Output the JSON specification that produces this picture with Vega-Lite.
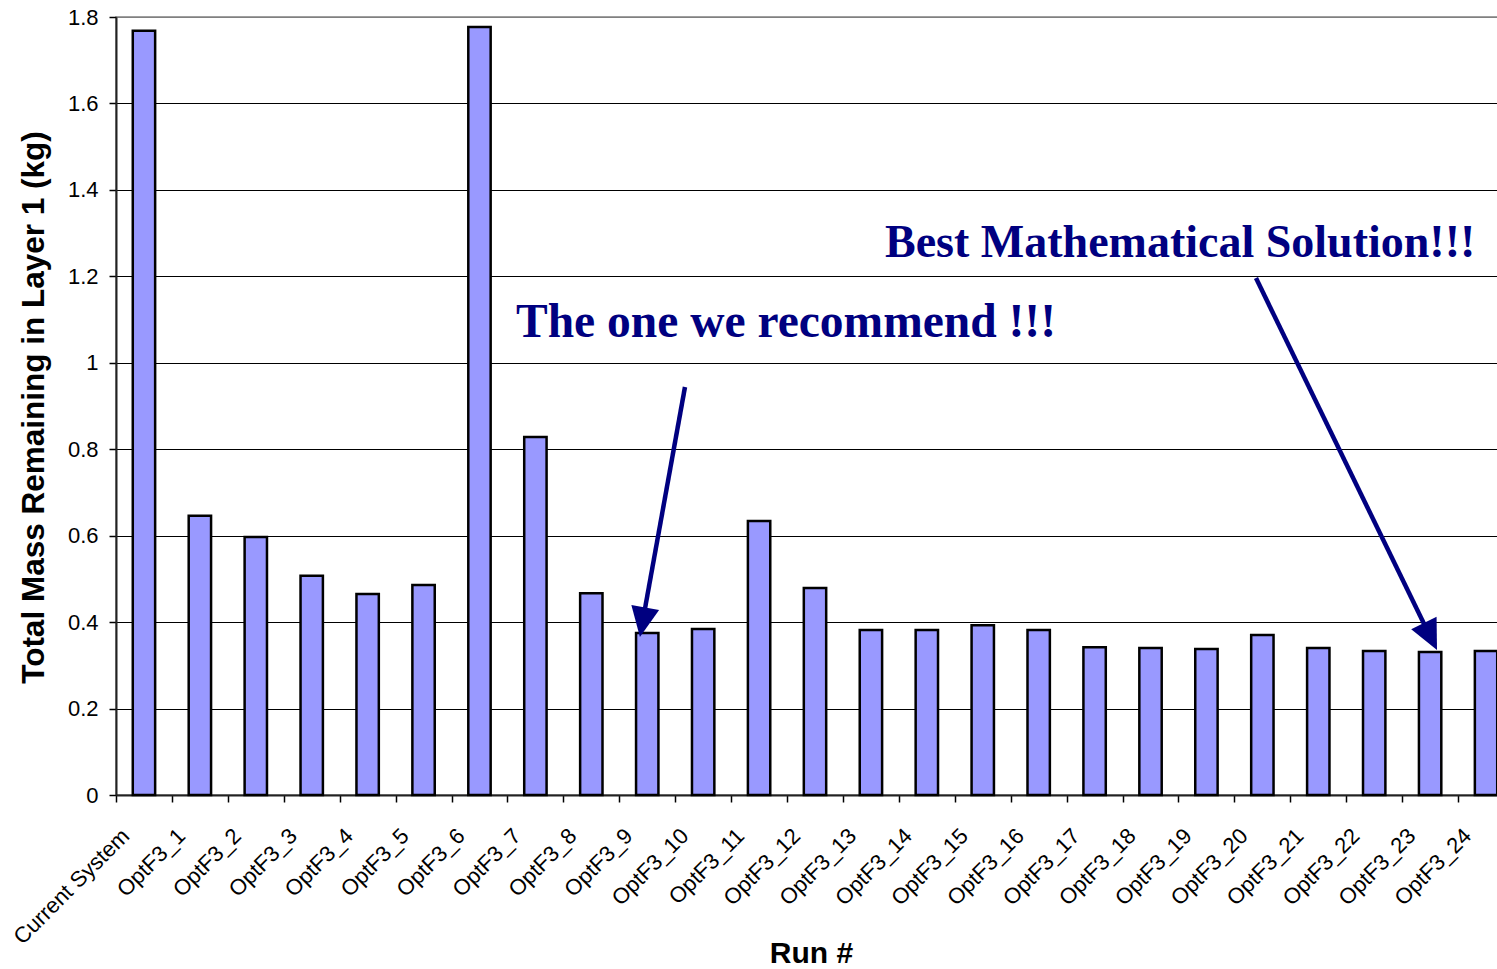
{
  "$schema": "https://vega.github.io/schema/vega-lite/v6.json",
  "autosize": "none",
  "width": 1398,
  "height": 778,
  "padding": {"left": 116, "top": 17, "right": 0, "bottom": 174},
  "background": "white",
  "config": {
    "view": {"stroke": "#808080", "strokeWidth": 1.5},
    "font": "Liberation Sans"
  },
  "resolve": {"scale": {"x": "independent"}},
  "layer": [
    {
      "data": {
        "values": [
          {"run": "Current System", "mass": 1.768},
          {"run": "OptF3_1", "mass": 0.646},
          {"run": "OptF3_2", "mass": 0.597},
          {"run": "OptF3_3", "mass": 0.507},
          {"run": "OptF3_4", "mass": 0.465},
          {"run": "OptF3_5", "mass": 0.486},
          {"run": "OptF3_6", "mass": 1.777},
          {"run": "OptF3_7", "mass": 0.828},
          {"run": "OptF3_8", "mass": 0.467},
          {"run": "OptF3_9", "mass": 0.375},
          {"run": "OptF3_10", "mass": 0.384},
          {"run": "OptF3_11", "mass": 0.634},
          {"run": "OptF3_12", "mass": 0.479},
          {"run": "OptF3_13", "mass": 0.382},
          {"run": "OptF3_14", "mass": 0.382},
          {"run": "OptF3_15", "mass": 0.393},
          {"run": "OptF3_16", "mass": 0.382},
          {"run": "OptF3_17", "mass": 0.342},
          {"run": "OptF3_18", "mass": 0.340},
          {"run": "OptF3_19", "mass": 0.338},
          {"run": "OptF3_20", "mass": 0.370},
          {"run": "OptF3_21", "mass": 0.340},
          {"run": "OptF3_22", "mass": 0.333},
          {"run": "OptF3_23", "mass": 0.331},
          {"run": "OptF3_24", "mass": 0.333}
        ]
      },
      "mark": {"type": "bar", "fill": "#9999FF", "stroke": "black", "strokeWidth": 2.5},
      "encoding": {
        "x": {
          "field": "run",
          "type": "nominal",
          "sort": null,
          "scale": {"paddingInner": 0.6, "paddingOuter": 0.3},
          "axis": {
            "title": "Run #",
            "titleFont": "Liberation Sans",
            "titleFontSize": 30,
            "titleFontWeight": "bold",
            "titleColor": "black",
            "titleX": 695,
            "titleY": 167,
            "titleBaseline": "alphabetic",
            "labelAngle": -45,
            "labelAlign": "right",
            "labelBaseline": "middle",
            "labelFontSize": 22,
            "labelColor": "black",
            "labelPadding": 30,
            "labelOffset": -2,
            "labelOverlap": false,
            "labelBound": false,
            "bandPosition": 0,
            "tickOffset": -16.78,
            "tickSize": 7,
            "tickColor": "black",
            "tickWidth": 1.5,
            "domainColor": "#222222",
            "domainWidth": 2,
            "grid": false
          }
        },
        "y": {
          "field": "mass",
          "type": "quantitative",
          "scale": {"domain": [0, 1.8], "nice": false},
          "axis": {
            "title": "Total Mass Remaining in Layer 1 (kg)",
            "titleFont": "Liberation Sans",
            "titleFontSize": 31.5,
            "titleFontWeight": "bold",
            "titleColor": "black",
            "titleX": -73,
            "titleY": 390,
            "titleAngle": 270,
            "titleBaseline": "alphabetic",
            "values": [0, 0.2, 0.4, 0.6, 0.8, 1, 1.2, 1.4, 1.6, 1.8],
            "format": "~g",
            "labelFontSize": 22,
            "labelColor": "black",
            "labelPadding": 11,
            "tickSize": 7,
            "tickColor": "black",
            "tickWidth": 1.5,
            "domainColor": "#222222",
            "domainWidth": 2,
            "grid": true,
            "gridColor": {"condition": {"test": "datum.value >= 1.79", "value": "#808080"}, "value": "black"},
            "gridWidth": 1,
            "gridOpacity": 1
          }
        }
      }
    },
    {
      "data": {
        "values": [
          {"x": 10.175, "y": 0.944, "x2": 9.433, "y2": 0.412},
          {"x": 20.386, "y": 1.196, "x2": 23.462, "y2": 0.377}
        ]
      },
      "mark": {"type": "rule", "color": "#000080", "strokeWidth": 4.5, "strokeCap": "butt"},
      "encoding": {
        "x": {"field": "x", "type": "quantitative", "scale": {"domain": [0, 25], "nice": false, "zero": false}, "axis": null},
        "x2": {"field": "x2"},
        "y": {"field": "y", "type": "quantitative", "scale": {"domain": [0, 1.8], "nice": false}, "title": "Total Mass Remaining in Layer 1 (kg)"},
        "y2": {"field": "y2"}
      }
    },
    {
      "data": {"values": [{"x": 9.369, "y": 0.3656}]},
      "mark": {"type": "point", "shape": "M0,0L-0.47,-1L0.47,-1Z", "size": 3600, "filled": true, "color": "#000080", "opacity": 1, "strokeWidth": 0, "angle": 10.2},
      "encoding": {
        "x": {"field": "x", "type": "quantitative", "scale": {"domain": [0, 25], "nice": false, "zero": false}, "axis": null},
        "y": {"field": "y", "type": "quantitative", "scale": {"domain": [0, 1.8], "nice": false}, "title": "Total Mass Remaining in Layer 1 (kg)"}
      }
    },
    {
      "data": {"values": [{"x": 23.623, "y": 0.3355}]},
      "mark": {"type": "point", "shape": "M0,0L-0.47,-1L0.47,-1Z", "size": 3600, "filled": true, "color": "#000080", "opacity": 1, "strokeWidth": 0, "angle": 334.1},
      "encoding": {
        "x": {"field": "x", "type": "quantitative", "scale": {"domain": [0, 25], "nice": false, "zero": false}, "axis": null},
        "y": {"field": "y", "type": "quantitative", "scale": {"domain": [0, 1.8], "nice": false}, "title": "Total Mass Remaining in Layer 1 (kg)"}
      }
    },
    {
      "data": {"values": [{"label": "The one we recommend !!!", "x": 7.153, "y": 1.06}]},
      "mark": {"type": "text", "font": "Liberation Serif", "fontWeight": "bold", "fontSize": 47.5, "color": "#000080", "align": "left", "baseline": "alphabetic"},
      "encoding": {
        "x": {"field": "x", "type": "quantitative", "scale": {"domain": [0, 25], "nice": false, "zero": false}, "axis": null},
        "y": {"field": "y", "type": "quantitative", "scale": {"domain": [0, 1.8], "nice": false}, "title": "Total Mass Remaining in Layer 1 (kg)"},
        "text": {"field": "label"}
      }
    },
    {
      "data": {"values": [{"label": "Best Mathematical Solution!!!", "x": 13.752, "y": 1.245}]},
      "mark": {"type": "text", "font": "Liberation Serif", "fontWeight": "bold", "fontSize": 46, "color": "#000080", "align": "left", "baseline": "alphabetic"},
      "encoding": {
        "x": {"field": "x", "type": "quantitative", "scale": {"domain": [0, 25], "nice": false, "zero": false}, "axis": null},
        "y": {"field": "y", "type": "quantitative", "scale": {"domain": [0, 1.8], "nice": false}, "title": "Total Mass Remaining in Layer 1 (kg)"},
        "text": {"field": "label"}
      }
    }
  ]
}
